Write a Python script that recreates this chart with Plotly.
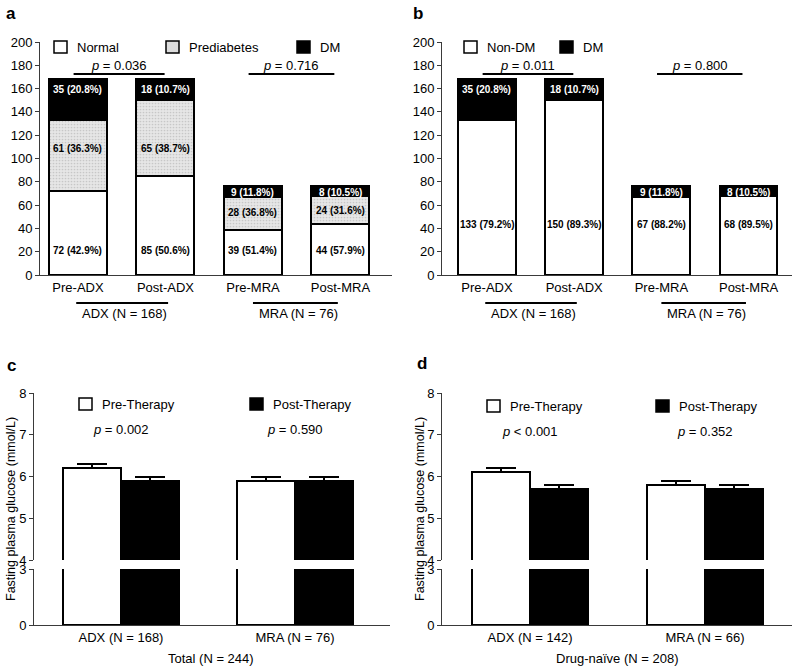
import plotly.graph_objects as go

W, H = 797, 670
FONT = "Liberation Sans, Arial, sans-serif"

# ---------------- data: panels a / b ----------------
stages = ["Pre-ADX", "Post-ADX", "Pre-MRA", "Post-MRA"]
normal = [72, 85, 39, 44]
prediabetes = [61, 65, 28, 24]
dm = [35, 18, 9, 8]
non_dm = [133, 150, 67, 68]
normal_pct = ["42.9%", "50.6%", "51.4%", "57.9%"]
prediabetes_pct = ["36.3%", "38.7%", "36.8%", "31.6%"]
dm_pct = ["20.8%", "10.7%", "11.8%", "10.5%"]
non_dm_pct = ["79.2%", "89.3%", "88.2%", "89.5%"]
group_labels_ab = ["ADX (N = 168)", "MRA (N = 76)"]
p_a = ["<i>p</i> = 0.036", "<i>p</i> = 0.716"]
p_b = ["<i>p</i> = 0.011", "<i>p</i> = 0.800"]
ticks_ab = [0, 20, 40, 60, 80, 100, 120, 140, 160, 180, 200]

# ---------------- data: panels c / d ----------------
groups_c = ["ADX (N = 168)", "MRA (N = 76)"]
pre_c = [6.2, 5.9]
post_c = [5.9, 5.9]
pre_c_sem = [0.1, 0.1]
post_c_sem = [0.1, 0.1]
p_c = ["<i>p</i> = 0.002", "<i>p</i> = 0.590"]
title_c = "Total (N = 244)"

groups_d = ["ADX (N = 142)", "MRA (N = 66)"]
pre_d = [6.1, 5.8]
post_d = [5.7, 5.7]
pre_d_sem = [0.1, 0.1]
post_d_sem = [0.1, 0.1]
p_d = ["<i>p</i> &lt; 0.001", "<i>p</i> = 0.352"]
title_d = "Drug-naïve (N = 208)"

ytitle_cd = "Fasting plasma glucose (mmol/L)"
ticks_top = [4, 5, 6, 7, 8]
ticks_bot = [0, 3]

# ---------------- layout geometry (pixels) ----------------
A_X, B_X = [40, 392], [442, 792]
AB_Y = [42, 275]
C_X, D_X = [34, 390], [442, 792]
TOP_Y, BOT_Y = [393, 560], [569, 625]
RANGE_A = [-0.434, 3.589]
RANGE_B = [-0.516, 3.498]
RANGE_C = [-0.5, 1.546]
RANGE_D = [-0.503, 1.497]
BAR_W_AB = 0.663
BAR_W_CD = 0.333

LABEL_Y_A = {"normal": [21, 21, 21, 21], "pre": [109, 109, 54, 55], "dm": [159, 159, 71, 71]}
LABEL_Y_B = {"non_dm": [43, 43, 43, 43], "dm": [159, 159, 71, 71]}


def fx(p):
    return p / W


def fy(p):
    return 1 - p / H


def xdom(d):
    return [fx(d[0]), fx(d[1])]


def ydom(d):
    return [fy(d[1]), fy(d[0])]


def data_to_px(dom, rng, v):
    return dom[0] + (v - rng[0]) / (rng[1] - rng[0]) * (dom[1] - dom[0])


def ann(x, y, text, xref="paper", yref="paper", size=13, color="black", xanchor="center",
        yanchor="middle", **kw):
    return dict(x=x, y=y, xref=xref, yref=yref, text=text, showarrow=False,
                xanchor=xanchor, yanchor=yanchor,
                font=dict(size=size, color=color, family=FONT), **kw)


LINE = dict(color="black", width=2)
AXCOL = "#3a3a3a"

fig = go.Figure()
annotations = []
shapes = []

xs = list(range(len(stages)))

# ---------------- panel a ----------------
fig.add_trace(go.Bar(x=xs, y=normal, width=BAR_W_AB, xaxis="x", yaxis="y",
                     marker=dict(color="white", line=LINE), showlegend=False))
fig.add_trace(go.Bar(x=xs, y=prediabetes, width=BAR_W_AB, xaxis="x", yaxis="y",
                     marker=dict(color="#e3e3e3", line=LINE,
                                 pattern=dict(shape=".", fgcolor="#a8a8a8", bgcolor="#e6e6e6",
                                              size=3, solidity=0.25)),
                     showlegend=False))
fig.add_trace(go.Bar(x=xs, y=dm, width=BAR_W_AB, xaxis="x", yaxis="y",
                     marker=dict(color="black", line=LINE), showlegend=False))

for i in xs:
    for vals, pcts, key, col in [(normal, normal_pct, "normal", "black"),
                                 (prediabetes, prediabetes_pct, "pre", "black"),
                                 (dm, dm_pct, "dm", "white")]:
        annotations.append(ann(i, LABEL_Y_A[key][i], f"<b>{vals[i]} ({pcts[i]})</b>",
                               xref="x", yref="y", size=10, color=col))

# ---------------- panel b ----------------
fig.add_trace(go.Bar(x=xs, y=non_dm, width=BAR_W_AB, xaxis="x2", yaxis="y2",
                     marker=dict(color="white", line=LINE), showlegend=False))
fig.add_trace(go.Bar(x=xs, y=dm, width=BAR_W_AB, xaxis="x2", yaxis="y2",
                     marker=dict(color="black", line=LINE), showlegend=False))
for i in xs:
    for vals, pcts, key, col in [(non_dm, non_dm_pct, "non_dm", "black"),
                                 (dm, dm_pct, "dm", "white")]:
        annotations.append(ann(i, LABEL_Y_B[key][i], f"<b>{vals[i]} ({pcts[i]})</b>",
                               xref="x2", yref="y2", size=10, color=col))

# p-value brackets and group lines for a / b
for xa, ya, dom, rng, pvals in [("x", "y", A_X, RANGE_A, p_a), ("x2", "y2", B_X, RANGE_B, p_b)]:
    for g, (x0, x1) in enumerate([(-0.05, 0.99), (1.95, 2.93)]):
        shapes.append(dict(type="line", xref=xa, yref=ya, x0=x0, x1=x1, y0=172.5, y1=172.5,
                           line=dict(color="black", width=2)))
        annotations.append(ann((x0 + x1) / 2, 180, pvals[g], xref=xa, yref=ya))
    for g, (x0, x1) in enumerate([(-0.02, 1.03), (2.0, 2.97)]):
        shapes.append(dict(type="line", xref="paper", yref="paper",
                           x0=fx(data_to_px(dom, rng, x0)), x1=fx(data_to_px(dom, rng, x1)),
                           y0=fy(303), y1=fy(303), line=dict(color="black", width=2)))
        annotations.append(ann(fx(data_to_px(dom, rng, (x0 + x1) / 2 + 0.03)), fy(313.5),
                               group_labels_ab[g]))

# ---------------- panels c / d ----------------
gx = [0, 1]
for xa, yt, yb, pre, post, pre_sem, post_sem in [
        ("x3", "y3", "y4", pre_c, post_c, pre_c_sem, post_c_sem),
        ("x4", "y5", "y6", pre_d, post_d, pre_d_sem, post_d_sem)]:
    xpre = [g - BAR_W_CD / 2 for g in gx]
    xpost = [g + BAR_W_CD / 2 for g in gx]
    for ya, err in [(yt, True), (yb, False)]:
        fig.add_trace(go.Bar(x=xpre, y=pre, width=BAR_W_CD, xaxis=xa, yaxis=ya,
                             marker=dict(color="white", line=LINE), showlegend=False,
                             error_y=dict(type="data", symmetric=False, array=pre_sem,
                                          arrayminus=[0] * len(pre), color="black",
                                          thickness=2, width=15, visible=err)))
        fig.add_trace(go.Bar(x=xpost, y=post, width=BAR_W_CD, xaxis=xa, yaxis=ya,
                             marker=dict(color="black", line=LINE), showlegend=False,
                             error_y=dict(type="data", symmetric=False, array=post_sem,
                                          arrayminus=[0] * len(post), color="black",
                                          thickness=2, width=15, visible=err)))

for xa, ya, pv, yv in [("x3", "y3", p_c, 7.12), ("x4", "y5", p_d, 7.07)]:
    for g in gx:
        annotations.append(ann(g, yv, pv[g], xref=xa, yref=ya))

# x titles, y titles for c / d
annotations.append(ann(fx(211), fy(658), title_c))
annotations.append(ann(fx(617), fy(658), title_d))
for xp in [11, 420]:
    annotations.append(ann(fx(xp), fy(509), ytitle_cd, size=12.5, textangle=-90))

# panel letters
for letter, xp, yp in [("a", 11, 13), ("b", 418, 13), ("c", 11, 365), ("d", 422, 363)]:
    annotations.append(ann(fx(xp), fy(yp), f"<b>{letter}</b>", size=17))

# manual legends (swatch boxes + labels)
legend_items = [
    ("Normal", "white", 54, 47), ("Prediabetes", "#dcdcdc", 166, 47), ("DM", "black", 297, 47),
    ("Non-DM", "white", 464, 47), ("DM", "black", 560, 47),
    ("Pre-Therapy", "white", 79, 404), ("Post-Therapy", "black", 250, 404),
    ("Pre-Therapy", "white", 487, 406), ("Post-Therapy", "black", 656, 406),
]
for label, col, x0, yc in legend_items:
    shapes.append(dict(type="rect", xref="paper", yref="paper", x0=fx(x0), x1=fx(x0 + 13),
                       y0=fy(yc + 6), y1=fy(yc - 6), fillcolor=col,
                       line=dict(color="black", width=1.5)))
    annotations.append(ann(fx(x0 + 21), fy(yc), label, xanchor="left"))

tickfont = dict(size=13, color="black", family=FONT)
common_y = dict(showgrid=False, zeroline=False, showline=True, linecolor=AXCOL, linewidth=1,
                ticks="outside", ticklen=4, tickcolor=AXCOL, tickfont=tickfont)
common_x = dict(showgrid=False, zeroline=False, showline=True, linecolor=AXCOL, linewidth=1,
                ticks="", tickfont=tickfont)

fig.update_layout(
    width=W, height=H, margin=dict(l=0, r=0, t=0, b=0), autosize=False,
    paper_bgcolor="white", plot_bgcolor="white", barmode="stack", bargap=0,
    font=dict(family=FONT, color="black", size=13),
    xaxis=dict(domain=xdom(A_X), range=RANGE_A, anchor="y", tickvals=xs, ticktext=stages, **common_x),
    yaxis=dict(domain=ydom(AB_Y), range=[0, 200], anchor="x", tickvals=ticks_ab, **common_y),
    xaxis2=dict(domain=xdom(B_X), range=RANGE_B, anchor="y2", tickvals=xs, ticktext=stages, **common_x),
    yaxis2=dict(domain=ydom(AB_Y), range=[0, 200], anchor="x2", tickvals=ticks_ab, **common_y),
    xaxis3=dict(domain=xdom(C_X), range=RANGE_C, anchor="y4", tickvals=gx, ticktext=groups_c, **common_x),
    yaxis3=dict(domain=ydom(TOP_Y), range=[4, 8], anchor="x3", tickvals=ticks_top, **common_y),
    yaxis4=dict(domain=ydom(BOT_Y), range=[0, 3], anchor="x3", tickvals=ticks_bot, **common_y),
    xaxis4=dict(domain=xdom(D_X), range=RANGE_D, anchor="y6", tickvals=gx, ticktext=groups_d, **common_x),
    yaxis5=dict(domain=ydom(TOP_Y), range=[4, 8], anchor="x4", tickvals=ticks_top, **common_y),
    yaxis6=dict(domain=ydom(BOT_Y), range=[0, 3], anchor="x4", tickvals=ticks_bot, **common_y),
    annotations=annotations, shapes=shapes,
)
for ax in ["xaxis", "yaxis", "xaxis2", "yaxis2", "xaxis3", "yaxis3", "yaxis4", "xaxis4", "yaxis5", "yaxis6"]:
    fig.layout[ax].automargin = False
    fig.layout[ax].fixedrange = True

fig.write_html("out.html", include_plotlyjs=True, config={"displayModeBar": False},
               post_script="document.body.style.margin='0px';")
